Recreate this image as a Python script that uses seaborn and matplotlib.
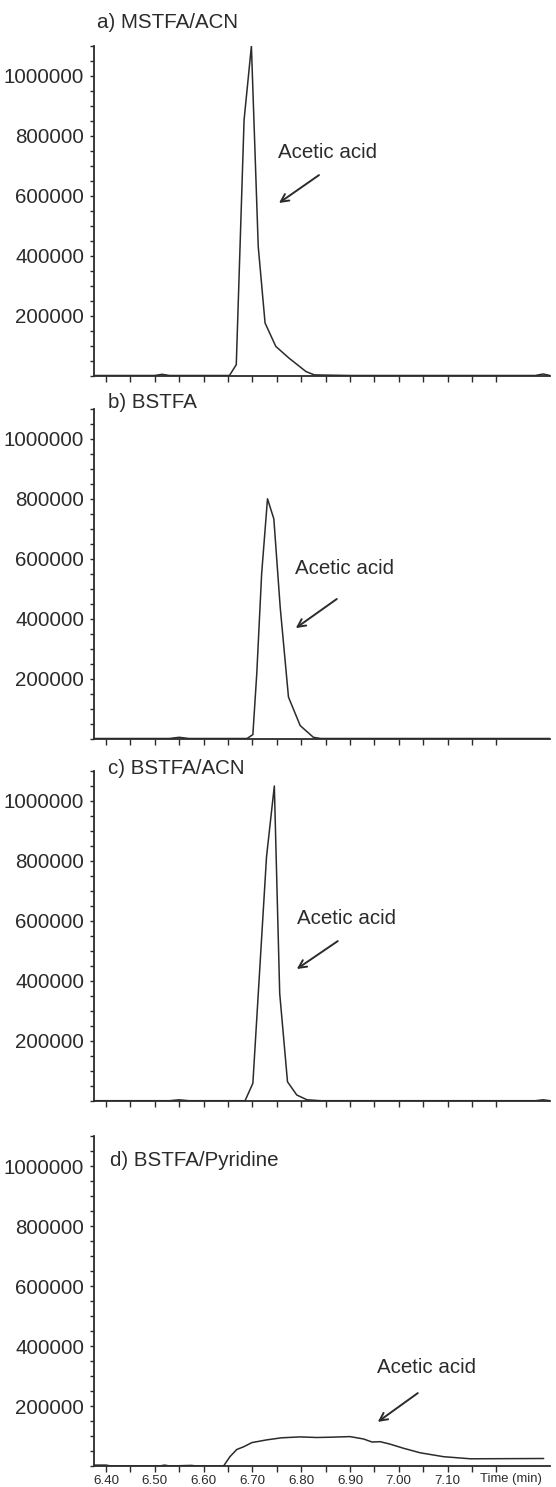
import numpy as np
import pandas as pd
import matplotlib
matplotlib.use("Agg")
import matplotlib.pyplot as plt
from matplotlib.ticker import FixedLocator, MultipleLocator, NullFormatter
import seaborn as sns

# Retention time (min) and detector response for each derivatisation condition
time_a = [6.375, 6.50, 6.515, 6.53, 6.653, 6.667, 6.683, 6.698, 6.712, 6.726,
          6.748, 6.775, 6.810, 6.827, 6.90, 7.28, 7.296, 7.31]
resp_a = [0, 0, 4000, 0, 0, 36000, 852000, 1098000, 430000, 175000,
          97000, 58000, 13000, 2000, 0, 0, 5000, 0]

time_b = [6.375, 6.53, 6.55, 6.57, 6.689, 6.701, 6.709, 6.719, 6.731, 6.744,
          6.757, 6.774, 6.798, 6.825, 6.84, 7.31]
resp_b = [0, 0, 4000, 0, 0, 13000, 216000, 549000, 799000, 732000,
          438000, 138000, 43000, 4000, 0, 0]

time_c = [6.375, 6.53, 6.55, 6.57, 6.685, 6.701, 6.729, 6.745, 6.756, 6.772,
          6.791, 6.812, 6.84, 7.28, 7.296, 7.31]
resp_c = [0, 0, 3000, 0, 0, 58000, 813000, 1049000, 358000, 63000,
          19000, 3000, 0, 0, 3000, 0]

time_d = [6.375, 6.40, 6.41, 6.51, 6.52, 6.53, 6.575, 6.585, 6.641, 6.654,
          6.668, 6.682, 6.699, 6.729, 6.760, 6.798, 6.832, 6.860, 6.900, 6.928,
          6.945, 6.962, 6.982, 7.010, 7.044, 7.092, 7.147, 7.297]
resp_d = [3000, 3000, 0, 0, 3000, 0, 2000, 0, 0, 31000,
          55000, 64000, 78000, 87000, 94000, 97000, 95000, 96000, 98000, 90000,
          80000, 81000, 73000, 59000, 44000, 31000, 24000, 25000]

panel_titles = ["a) MSTFA/ACN", "b) BSTFA", "c) BSTFA/ACN", "d) BSTFA/Pyridine"]
peak_label = "Acetic acid"
y_tick_values = [200000, 400000, 600000, 800000, 1000000]
x_tick_values = [6.40, 6.50, 6.60, 6.70, 6.80, 6.90, 7.00, 7.10]
x_tick_labels = ["6.40", "6.50", "6.60", "6.70", "6.80", "6.90", "7.00", "7.10"]
x_axis_label = "Time (min)"

sns.set_style("ticks")
plt.rcParams["font.family"] = ["Liberation Sans", "DejaVu Sans"]

INK = "#2b2b2b"
W, H = 556, 1487
fig = plt.figure(figsize=(W / 100, H / 100), dpi=100)

# panel geometry in pixels: baseline y, title position; annotation anchors in data units
layout = [
    dict(base=375.5, tx=97, ty=22,
         label=(6.7525, 741700), tail=(6.8365, 668000), head=(6.7545, 575000)),
    dict(base=738.5, tx=108, ty=403,
         label=(6.787, 568000), tail=(6.873, 465000), head=(6.789, 368000)),
    dict(base=1100.7, tx=108, ty=769,
         label=(6.791, 605700), tail=(6.875, 532000), head=(6.791, 439000)),
    dict(base=1466.0, tx=110, ty=1160,
         label=(6.955, 327000), tail=(7.039, 243000), head=(6.957, 147000)),
]
series = [(time_a, resp_a), (time_b, resp_b), (time_c, resp_c), (time_d, resp_d)]

left_px, right_px = 94, 550
plot_h = 330.0
xmin, xmax = 6.3754, 7.31
FS = 14.8

for i, ((t, r), lay, title) in enumerate(zip(series, layout, panel_titles)):
    bottom = 1 - lay["base"] / H
    ax = fig.add_axes([left_px / W, bottom, (right_px - left_px) / W, plot_h / H])
    df = pd.DataFrame({"time": t, "response": r})
    sns.lineplot(data=df, x="time", y="response", ax=ax, color=INK,
                 linewidth=1.1, estimator=None, sort=False)
    ax.set_xlim(xmin, xmax)
    ax.set_ylim(0, 1100000)
    ax.set_xlabel("")
    ax.set_ylabel("")
    for s in ("top", "right"):
        ax.spines[s].set_visible(False)
    for s in ("left", "bottom"):
        ax.spines[s].set_color(INK)
        ax.spines[s].set_linewidth(1.3)

    ax.yaxis.set_major_locator(FixedLocator(y_tick_values))
    ax.yaxis.set_minor_locator(MultipleLocator(50000))
    ax.set_yticklabels([f"{v:d}" for v in y_tick_values])
    ax.tick_params(axis="y", which="both", direction="out", length=3, width=1,
                   color=INK, labelsize=FS, labelcolor=INK, pad=4)

    ax.xaxis.set_major_locator(FixedLocator(x_tick_values))
    ax.xaxis.set_minor_locator(FixedLocator([6.45, 6.55, 6.65, 6.75, 6.85,
                                             6.95, 7.05, 7.15, 7.20]))
    ax.tick_params(axis="x", which="both", direction="out", length=4, width=1,
                   color=INK, labelsize=9.6, labelcolor=INK, pad=2.5)
    if i == 3:
        ax.set_xticklabels(x_tick_labels)
        ax.annotate(x_axis_label, xy=(7.23, 0), xycoords=("data", "axes fraction"),
                    xytext=(0, -13), textcoords="offset pixels",
                    ha="center", va="center", fontsize=9.4, color=INK)
    else:
        ax.xaxis.set_major_formatter(NullFormatter())

    ax.text(lay["label"][0], lay["label"][1], peak_label, ha="left", va="center",
            fontsize=FS, color=INK)
    ax.annotate("", xy=lay["head"], xytext=lay["tail"],
                arrowprops=dict(arrowstyle="->", color=INK, lw=1.4,
                                mutation_scale=14, shrinkA=0, shrinkB=0))

    fig.text(lay["tx"] / W, 1 - lay["ty"] / H, title, ha="left", va="center",
             fontsize=FS, color=INK)

fig.savefig("out.png", dpi=100, facecolor="white")
